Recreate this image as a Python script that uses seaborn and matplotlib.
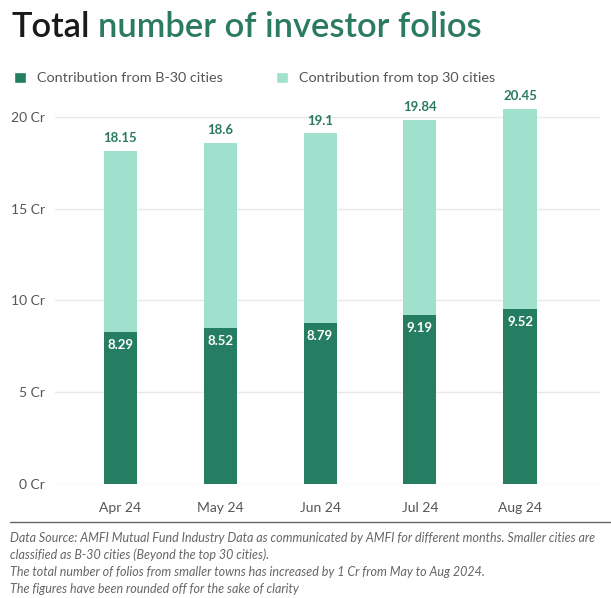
import pandas as pd
import matplotlib.pyplot as plt
import seaborn as sns
from matplotlib.lines import Line2D
from matplotlib.patches import Patch

months = ["Apr 24", "May 24", "Jun 24", "Jul 24", "Aug 24"]
b30 = [8.29, 8.52, 8.79, 9.19, 9.52]
total = [18.15, 18.6, 19.1, 19.84, 20.45]
total_labels = ["18.15", "18.6", "19.1", "19.84", "20.45"]
yticks = [0, 5, 10, 15, 20]
ytick_labels = ["0 Cr", "5 Cr", "10 Cr", "15 Cr", "20 Cr"]

df = pd.DataFrame({"month": months, "b30": b30, "total": total})

dark = "#257d62"
light = "#9fe1cd"
title_green = "#2b7b5e"
grey = "#555555"

sns.set_style("white")
plt.rcParams["font.family"] = ["Lato", "DejaVu Sans"]

fig = plt.figure(figsize=(6.11, 5.98), dpi=100)
ax = fig.add_axes([55 / 611, 1 - 484 / 598, 545 / 611, (484 - 98.6) / 598])

sns.barplot(data=df, x="month", y="total", color=light, width=0.33,
            saturation=1, ax=ax, zorder=2, linewidth=0)
sns.barplot(data=df, x="month", y="b30", color=dark, width=0.33,
            saturation=1, ax=ax, zorder=3, linewidth=0)

ax.set_xlim(-0.65, 4.8)
ax.set_ylim(0, 21)
ax.set_yticks(yticks)
ax.set_yticklabels(ytick_labels)
ax.grid(axis="y", color="#e9e9e9", linewidth=1, zorder=0)
ax.set_axisbelow(True)
for s in ax.spines.values():
    s.set_visible(False)
ax.tick_params(axis="y", length=0, pad=7, labelsize=10, labelcolor=grey)
ax.tick_params(axis="x", length=0, pad=13, labelsize=10, labelcolor=grey)
ax.set_xlabel("")
ax.set_ylabel("")

for i, (t, tl, b) in enumerate(zip(total, total_labels, b30)):
    ax.annotate(tl, (i, t), xytext=(0, 5), textcoords="offset points",
                ha="center", va="bottom", fontsize=9.5, fontweight="bold",
                color=title_green)
    ax.annotate(f"{b:.2f}", (i, b), xytext=(0, -5), textcoords="offset points",
                ha="center", va="top", fontsize=9.5, fontweight="bold",
                color="white")

# title
t1 = fig.text(12 / 611, 1 - 27 / 598, "Total", fontsize=24.8, color="#1a1a1a",
              va="center", ha="left", fontweight="semibold")
fig.canvas.draw()
bb = t1.get_window_extent()
fig.text((bb.x1 + 7) / 611, 1 - 27 / 598, "number of investor folios",
         fontsize=24.8, color=title_green, va="center", ha="left",
         fontweight="semibold")

# legend
handles = [Patch(facecolor=dark, label="Contribution from B-30 cities"),
           Patch(facecolor=light, label="Contribution from top 30 cities")]
leg = fig.legend(handles=handles, loc="center left",
                 bbox_to_anchor=(14 / 611, 1 - 78 / 598), ncol=2, frameon=False,
                 fontsize=10.4, handlelength=0.83, handleheight=0.83,
                 handletextpad=0.76, columnspacing=3.7,
                 borderpad=0, borderaxespad=0)
for txt in leg.get_texts():
    txt.set_color(grey)

# separator line under x labels
fig.add_artist(Line2D([10 / 611, 1], [1 - 522 / 598] * 2, color="#666666",
                      linewidth=1))

notes = [
    "Data Source: AMFI Mutual Fund Industry Data as communicated by AMFI for different months. Smaller cities are",
    "classified as B-30 cities (Beyond the top 30 cities).",
    "The total number of folios from smaller towns has increased by 1 Cr from May to Aug 2024.",
    "The figures have been rounded off for the sake of clarity",
]
for k, line in enumerate(notes):
    fig.text(10 / 611, 1 - (538 + k * 17) / 598, line, fontsize=9.0,
             style="italic", color="#666666", va="center", ha="left")

fig.savefig("out.png", dpi=100)
